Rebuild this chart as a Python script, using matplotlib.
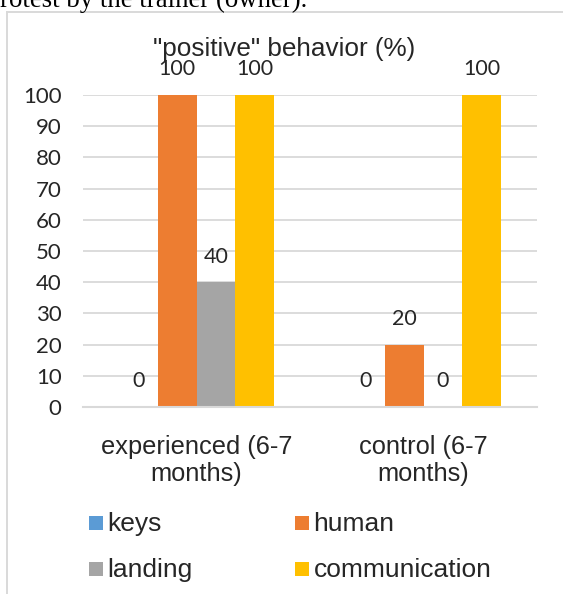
import matplotlib
matplotlib.use("Agg")
import matplotlib.pyplot as plt
from matplotlib.patches import Rectangle
from matplotlib.lines import Line2D
import numpy as np

categories = ["experienced (6-7\nmonths)", "control (6-7\nmonths)"]
series = ["keys", "human", "landing", "communication"]
values = {
    "keys": [0, 0],
    "human": [100, 20],
    "landing": [40, 0],
    "communication": [100, 100],
}
colors = {
    "keys": "#5B9BD5",
    "human": "#ED7D31",
    "landing": "#A5A5A5",
    "communication": "#FFC000",
}
yticks = list(range(0, 101, 10))

W, H = 563, 594
fig = plt.figure(figsize=(W / 100, H / 100), dpi=100)

text_color = "#262626"
grid_color = "#D9D9D9"
sans = ["Liberation Sans", "DejaVu Sans"]
num_font = ["Lato", "DejaVu Sans"]


def fx(px):
    return px / W


def fy(py):
    return 1 - py / H


# caption line above the chart frame (cut off at the top)
fig.text(0, fy(7), "rotest by the trainer (owner).", family=["Liberation Serif"],
         fontsize=19.3, color="black", va="baseline", ha="left")

# chart frame
fig.add_artist(Line2D([fx(6.7), fx(6.7)], [0, fy(12.3)], transform=fig.transFigure,
                      color=grid_color, lw=1.4))
fig.add_artist(Line2D([fx(6.7), 1], [fy(12.3), fy(12.3)], transform=fig.transFigure,
                      color=grid_color, lw=1.4))

left, right, top, bottom = 83, 537, 95, 407
ax = fig.add_axes([fx(left), fy(bottom), (right - left) / W, (bottom - top) / H])

x = np.arange(len(categories))
n = len(series)
bw = 0.68 / n
for i, s in enumerate(series):
    pos = x + (i - (n - 1) / 2) * bw
    ax.bar(pos, values[s], width=bw, color=colors[s], zorder=3)
    for xp, v in zip(pos, values[s]):
        ax.annotate(f"{v}", (xp, v), xytext=(0, 18.4), textcoords="offset points",
                    ha="center", va="center", fontsize=15.5, family=num_font,
                    color=text_color)

ax.set_xlim(-0.5, len(categories) - 0.5)
ax.set_ylim(0, 100)
ax.set_yticks(yticks)
ax.set_yticklabels([str(t) for t in yticks], family=num_font, fontsize=16, color=text_color)
ax.set_xticks(x)
ax.set_xticklabels([])
ax.tick_params(axis="y", length=0, pad=15.5)
ax.tick_params(axis="x", length=0)
ax.grid(axis="y", color=grid_color, lw=1.3, zorder=0)
for sp in ["top", "right", "left"]:
    ax.spines[sp].set_visible(False)
ax.spines["bottom"].set_color(grid_color)
ax.spines["bottom"].set_linewidth(1.5)
ax.spines["bottom"].set_zorder(4)

# category labels, wrapped onto two lines below each group
line_baselines = [454, 480.5]
for cx, lab in zip(x, categories):
    for yb, line in zip(line_baselines, lab.split("\n")):
        ax.annotate(line, (cx, 0), xycoords=("data", "axes fraction"),
                    xytext=(0, -(yb - bottom) * 0.72), textcoords="offset points",
                    family=sans, fontsize=18.3, color=text_color,
                    ha="center", va="baseline", annotation_clip=False)

fig.text(fx(153), fy(56), "\"positive\" behavior (%)", family=sans, fontsize=18.8,
         color=text_color, ha="left", va="baseline")

# legend, laid out row by row in two columns
col_x = [89, 295]
row_y = [523, 569]
sq = 13.7
for k, s in enumerate(series):
    r, c = divmod(k, 2)
    x0, yc = col_x[c], row_y[r]
    fig.add_artist(Rectangle((fx(x0), fy(yc + sq / 2)), sq / W, sq / H,
                             transform=fig.transFigure, facecolor=colors[s],
                             edgecolor="none"))
    fig.text(fx(x0 + 18.5), fy(yc + 8), s, family=sans, fontsize=19, color=text_color,
             ha="left", va="baseline")

fig.savefig("out.png", dpi=100)
